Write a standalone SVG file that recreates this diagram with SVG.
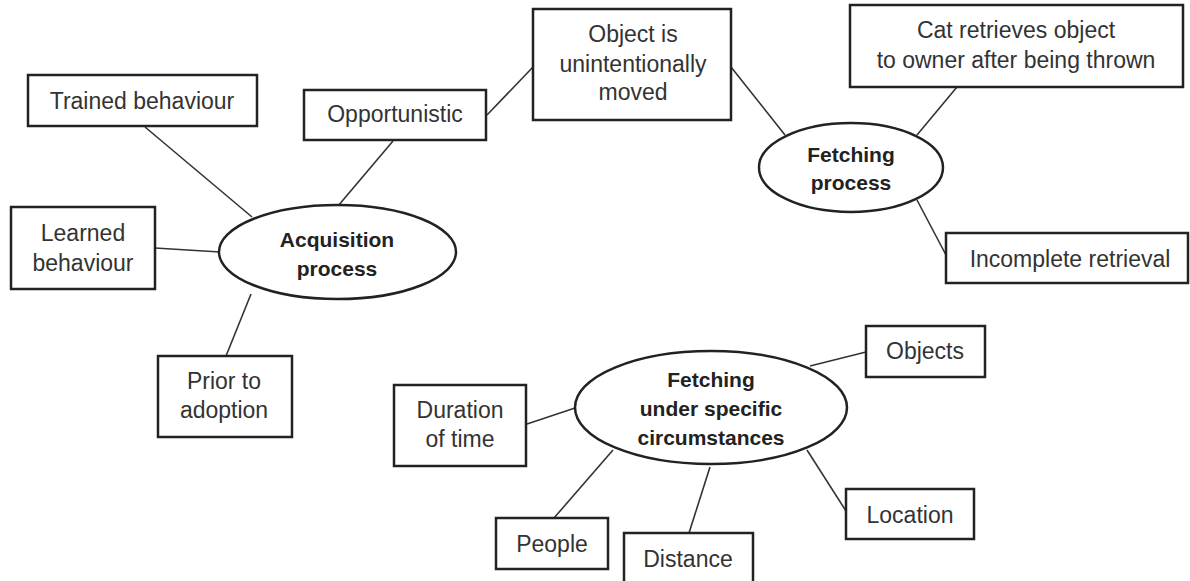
<svg xmlns="http://www.w3.org/2000/svg" width="1190" height="581" viewBox="0 0 1190 581">
<style>
.box{fill:#fff;stroke:#222;stroke-width:2.5}
.ell{fill:#fff;stroke:#222;stroke-width:2.5}
.ln{stroke:#333;stroke-width:1.6;fill:none}
text{font-family:"Liberation Sans",Arial,sans-serif;font-size:23px;fill:#333;text-anchor:middle}
text.b{font-weight:bold;font-size:21px;fill:#222}
</style>
<rect width="1190" height="581" fill="#fff"/>
<g id="connectors">
<line class="ln" x1="145" y1="127" x2="252" y2="217"/>
<line class="ln" x1="155" y1="248" x2="220" y2="252"/>
<line class="ln" x1="393" y1="141" x2="338" y2="206"/>
<line class="ln" x1="251" y1="294" x2="226" y2="356"/>
<line class="ln" x1="487" y1="115" x2="533" y2="67"/>
<line class="ln" x1="731" y1="67" x2="785" y2="135"/>
<line class="ln" x1="957" y1="87" x2="917" y2="135"/>
<line class="ln" x1="917" y1="200" x2="946" y2="255"/>
<line class="ln" x1="866" y1="352" x2="810" y2="366"/>
<line class="ln" x1="527" y1="424" x2="575" y2="408"/>
<line class="ln" x1="554" y1="518" x2="613" y2="450"/>
<line class="ln" x1="710" y1="467" x2="689" y2="533"/>
<line class="ln" x1="807" y1="450" x2="846" y2="511"/>
</g>
<g id="trained"><rect class="box" x="28" y="75" width="229" height="51"/><text x="142" y="109">Trained behaviour</text></g>
<g id="learned"><rect class="box" x="11" y="207" width="144" height="82"/><text x="83" y="241">Learned</text><text x="83" y="271">behaviour</text></g>
<g id="acquisition"><ellipse class="ell" cx="337.5" cy="252" rx="118.5" ry="47"/><text class="b" x="337" y="247">Acquisition</text><text class="b" x="337" y="276">process</text></g>
<g id="prior"><rect class="box" x="158" y="356" width="134" height="81"/><text x="224" y="389">Prior to</text><text x="224" y="418">adoption</text></g>
<g id="opportunistic"><rect class="box" x="304" y="90" width="182" height="50"/><text x="395" y="122">Opportunistic</text></g>
<g id="object"><rect class="box" x="533" y="9" width="198" height="111"/><text x="633" y="42">Object is</text><text x="633" y="72">unintentionally</text><text x="633" y="100">moved</text></g>
<g id="fetching"><ellipse class="ell" cx="851" cy="167.5" rx="92" ry="44.5"/><text class="b" x="851" y="162">Fetching</text><text class="b" x="851" y="190">process</text></g>
<g id="cat"><rect class="box" x="850" y="5" width="333" height="82"/><text x="1016" y="38">Cat retrieves object</text><text x="1016" y="68">to owner after being thrown</text></g>
<g id="incomplete"><rect class="box" x="946" y="233" width="242" height="50"/><text x="1070" y="267">Incomplete retrieval</text></g>
<g id="circumstances"><ellipse class="ell" cx="711" cy="407.5" rx="136" ry="56.5"/><text class="b" x="711" y="387">Fetching</text><text class="b" x="711" y="416">under specific</text><text class="b" x="711" y="445">circumstances</text></g>
<g id="objects"><rect class="box" x="866" y="326" width="119" height="51"/><text x="925" y="359">Objects</text></g>
<g id="duration"><rect class="box" x="394" y="385" width="132" height="81"/><text x="460" y="418">Duration</text><text x="460" y="447">of time</text></g>
<g id="people"><rect class="box" x="496" y="518" width="112" height="51"/><text x="552" y="552">People</text></g>
<g id="distance"><rect class="box" x="624" y="533" width="129" height="60"/><text x="688" y="567">Distance</text></g>
<g id="location"><rect class="box" x="846" y="489" width="128" height="50"/><text x="910" y="523">Location</text></g>
</svg>
